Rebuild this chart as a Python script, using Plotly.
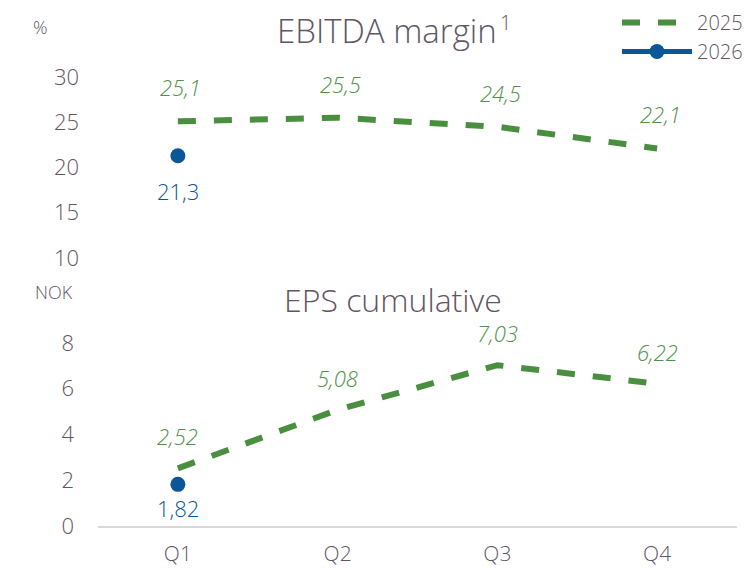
import plotly.graph_objects as go

quarters = ["Q1", "Q2", "Q3", "Q4"]
ebitda_2025 = [25.1, 25.5, 24.5, 22.1]
ebitda_2026 = [21.3]
eps_2025 = [2.52, 5.08, 7.03, 6.22]
eps_2026 = [1.82]
ebitda_ticks = [10, 15, 20, 25, 30]
eps_ticks = [0, 2, 4, 6, 8]

GREEN = "#4a8f3f"
GREEN_TXT = "#4f9148"
BLUE = "#0a5699"
GRAY = "#5f5664"
FONT = "Open Sans"
W = 300

# page pixel -> paper coords helpers (plot area: x 98..737, y 10..526 in page pixels)
def px(x):
    return (x - 98) / 639

def py(y):
    return (526 - y) / 516

def fmt(v, d):
    return f"{v:.{d}f}".replace(".", ",")

fig = go.Figure()

dash = "18px,18px"
fig.add_trace(go.Scatter(x=quarters, y=ebitda_2025, mode="lines", name="2025",
                         line=dict(color=GREEN, width=6, dash=dash),
                         xaxis="x", yaxis="y", cliponaxis=False, showlegend=True))
fig.add_trace(go.Scatter(x=quarters[:1], y=ebitda_2026, mode="lines+markers", name="2026",
                         line=dict(color=BLUE, width=5), marker=dict(size=15, color=BLUE),
                         xaxis="x", yaxis="y", cliponaxis=False, showlegend=True))
fig.add_trace(go.Scatter(x=quarters, y=eps_2025, mode="lines", name="2025",
                         line=dict(color=GREEN, width=6, dash=dash),
                         xaxis="x2", yaxis="y2", cliponaxis=False, showlegend=False))
fig.add_trace(go.Scatter(x=quarters[:1], y=eps_2026, mode="lines+markers", name="2026",
                         line=dict(color=BLUE, width=5), marker=dict(size=15, color=BLUE),
                         xaxis="x2", yaxis="y2", cliponaxis=False, showlegend=False))

ann = []
lab = dict(family=FONT, size=22, weight=W)
for q, v in zip(quarters, ebitda_2025):
    ann.append(dict(x=q, y=v, xref="x", yref="y", text=fmt(v, 1), showarrow=False,
                    yshift=34, xshift=3, font=dict(lab, color=GREEN_TXT, style="italic")))
for q, v in zip(quarters, ebitda_2026):
    ann.append(dict(x=q, y=v, xref="x", yref="y", text=fmt(v, 1), showarrow=False,
                    yshift=-35, font=dict(lab, color=BLUE)))
for q, v in zip(quarters, eps_2025):
    ann.append(dict(x=q, y=v, xref="x2", yref="y2", text=fmt(v, 2), showarrow=False,
                    yshift=32, font=dict(lab, color=GREEN_TXT, style="italic")))
for q, v in zip(quarters, eps_2026):
    ann.append(dict(x=q, y=v, xref="x2", yref="y2", text=fmt(v, 2), showarrow=False,
                    yshift=-24, font=dict(lab, color=BLUE)))

tfont = dict(family=FONT, size=33, color=GRAY, weight=W)
ann.append(dict(x=px(387), y=py(31), xref="paper", yref="paper", text="EBITDA margin",
                xanchor="center", yanchor="middle", showarrow=False, font=tfont))
ann.append(dict(x=px(498), y=py(22), xref="paper", yref="paper", text="1",
                xanchor="left", yanchor="middle", showarrow=False,
                font=dict(family=FONT, size=20, color=GRAY, weight=W)))
ann.append(dict(x=px(393), y=py(299), xref="paper", yref="paper", text="EPS cumulative",
                xanchor="center", yanchor="middle", showarrow=False,
                font=dict(tfont, size=32)))
ann.append(dict(x=px(40), y=py(27), xref="paper", yref="paper", text="%",
                xanchor="center", yanchor="middle", showarrow=False,
                font=dict(family=FONT, size=18, color=GRAY, weight=W)))
ann.append(dict(x=px(54), y=py(292), xref="paper", yref="paper", text="NOK",
                xanchor="center", yanchor="middle", showarrow=False,
                font=dict(family=FONT, size=18, color=GRAY, weight=W)))

axfont = dict(family=FONT, size=22, color=GRAY, weight=W)
fig.update_layout(
    width=744, height=561,
    margin=dict(l=90, r=15, t=2, b=43, autoexpand=False),
    paper_bgcolor="white", plot_bgcolor="white",
    font=dict(family=FONT, color=GRAY),
    annotations=ann,
    showlegend=True,
    legend=dict(x=px(617), xanchor="left", y=py(3), yanchor="top",
                font=dict(family=FONT, size=20, color=GRAY, weight=W),
                itemwidth=70, tracegroupgap=0, bgcolor="rgba(0,0,0,0)"),
    xaxis=dict(domain=[0, 1], anchor="y", type="category", categoryorder="array",
               categoryarray=quarters, range=[-0.5, 3.5], showticklabels=False,
               showline=False, showgrid=False, zeroline=False, ticks=""),
    yaxis=dict(domain=[py(258), py(77)], anchor="x", range=[10, 30],
               tickvals=ebitda_ticks, showgrid=False, zeroline=False, showline=False,
               tickfont=axfont, ticklabelstandoff=18),
    xaxis2=dict(domain=[0, 1], anchor="y2", type="category", categoryorder="array",
                categoryarray=quarters, range=[-0.5, 3.5], showline=True, linecolor="#d9d9d9",
                linewidth=1.5, showgrid=False, zeroline=False, ticks="",
                tickfont=dict(axfont, size=21), ticklabelstandoff=8),
    yaxis2=dict(domain=[0, py(343)], anchor="x2", range=[0, 8],
                tickvals=eps_ticks, showgrid=False, zeroline=False, showline=False,
                tickfont=axfont, ticklabelstandoff=23),
)

fig.write_html("out.html")
